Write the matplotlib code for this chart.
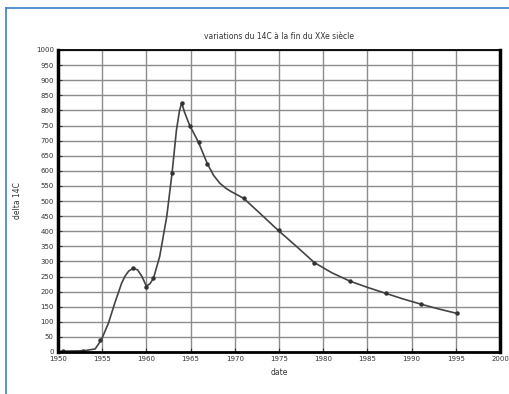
import matplotlib
matplotlib.use("Agg")
import matplotlib.pyplot as plt
from matplotlib.lines import Line2D

# curve (year, delta 14C)
curve_year = [1950.0, 1950.8, 1952.9, 1954.2, 1954.9, 1955.7, 1956.4, 1957.2, 1957.6,
              1958.0, 1958.5, 1959.0, 1959.5, 1960.0, 1960.4, 1960.8, 1961.5, 1962.3,
              1962.9, 1963.4, 1963.75, 1964.0, 1964.3, 1964.9, 1965.3, 1965.9, 1966.9,
              1967.6, 1968.3, 1969.0, 1969.6, 1971.0, 1972.85, 1974.9, 1977.0, 1979.0,
              1981.0, 1983.0, 1985.0, 1987.1, 1989.0, 1991.1, 1993.0, 1995.1]
curve_val = [2, 3, 4, 10, 40, 95, 160, 228, 252,
             268, 277, 272, 250, 218, 226, 244, 316, 448,
             592, 735, 800, 825, 795, 750, 728, 694, 623,
             585, 559, 542, 531, 509, 459, 403, 349, 296,
             262, 235, 214, 194, 176, 158, 143, 128]

# measured points (markers)
pt_year = [1950.6, 1952.8, 1954.8, 1958.5, 1960.0, 1960.8, 1962.9, 1964.0, 1964.9,
           1965.9, 1966.9, 1971.0, 1975.0, 1979.0, 1983.0, 1987.1, 1991.1, 1995.1]
pt_val = [2, 3, 40, 277, 216, 244, 592, 825, 750,
          694, 623, 509, 404, 296, 235, 194, 158, 128]

fig = plt.figure(figsize=(5.1, 3.94), dpi=100)
ax = fig.add_axes([58/510, 1-352/394, 442/510, 302/394])

ax.grid(True, color='#8c8c8c', lw=1.0)
ax.plot(curve_year, curve_val, color='#444444', lw=1.2)
ax.plot(pt_year, pt_val, 'o', color='#333333', ms=2.2)

ax.set_xlim(1950, 2000)
ax.set_ylim(0, 1000)
ax.set_xticks(range(1950, 2001, 5))
ax.set_yticks(range(0, 1001, 50))
ax.set_axisbelow(True)
ax.tick_params(direction='in', length=3, labelsize=5, colors='#333333', pad=3)
for s in ['left', 'right']:
    ax.spines[s].set_linewidth(2.5)
ax.spines['bottom'].set_linewidth(2.0)
ax.spines['top'].set_linewidth(1.3)
ax.set_title(u"variations du 14C à la fin du XXe siècle", fontsize=5.5, color='#333333', pad=8)
ax.set_xlabel("date", fontsize=5.5, color='#333333', labelpad=4)
ax.set_ylabel("delta 14C", fontsize=5.5, color='#333333', labelpad=10)

# blue frame of the picture
fig.add_artist(Line2D([6/510, 1], [1-8/394, 1-8/394], color='#3a7fd0', lw=1.2))
fig.add_artist(Line2D([6/510, 6/510], [0, 1-8/394], color='#3a7fd0', lw=1.2))

fig.savefig("out.png", dpi=100)
